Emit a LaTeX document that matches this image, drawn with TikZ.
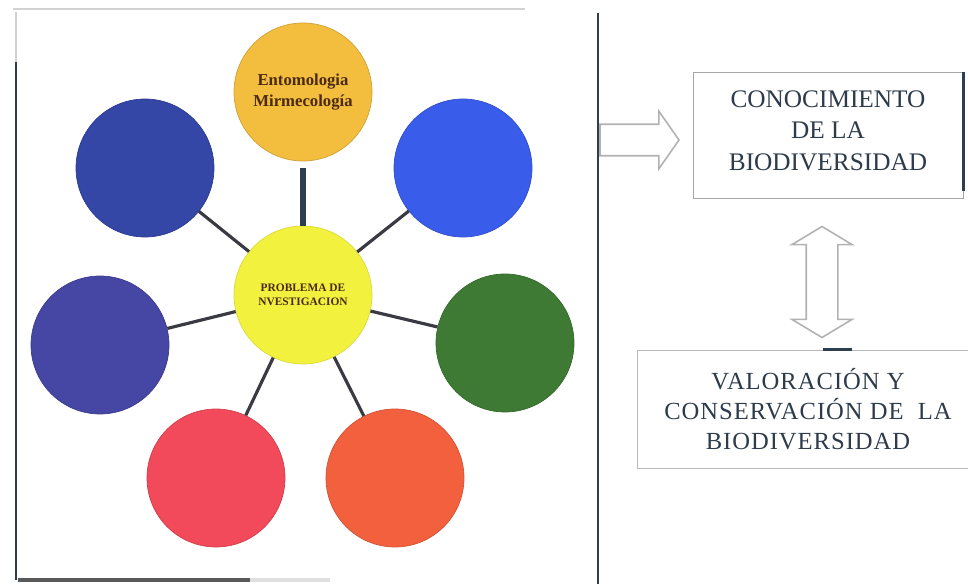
\documentclass[tikz,border=0pt]{standalone}
\usepackage{xcolor}
\usepackage{fontspec}
\setmainfont{Liberation Serif}
\usepackage{tikz}
\usetikzlibrary{shapes,arrows,positioning}

\definecolor{goldfill}{HTML}{F3BE3E}
\definecolor{lemonfill}{HTML}{F2F23E}
\definecolor{navyfill}{HTML}{3446A6}
\definecolor{royalfill}{HTML}{3A5CEB}
\definecolor{indigofill}{HTML}{4646A4}
\definecolor{leaffill}{HTML}{3E7A34}
\definecolor{rosefill}{HTML}{F24A5A}
\definecolor{tangfill}{HTML}{F3603E}
\definecolor{spokegray}{HTML}{3A3A42}
\definecolor{slateline}{HTML}{2C3E50}
\definecolor{inkbrown}{HTML}{4A2A12}
\definecolor{boxink}{HTML}{2D3B4B}

\begin{document}
\begin{tikzpicture}[x=0.02cm, y=-0.02cm,
    bubble/.style={circle, inner sep=0pt, minimum size=2.76cm, align=center},
    spoke/.style={line width=1.8pt, draw=spokegray},
    titlebox/.style={rectangle, text=boxink, align=center},
    hollow/.style={draw=gray!60, line width=0.9pt, fill=white, inner sep=0pt, text height=0.3cm, text depth=0.3cm}]

    \useasboundingbox (0,0) rectangle (968,584);

    % Frame round the circles
    \draw[gray!35, line width=1.5pt] (13,9) -- (525,9);
    \draw[gray!35, line width=1.2pt] (16,12) -- (16,62);
    \draw[slateline, line width=0.8pt] (16,62) -- (16,580);
    \draw[gray!70!black, line width=2.5pt] (18,580) -- (250,580);
    \draw[gray!25, line width=2pt] (250,580) -- (330,580);
    \draw[slateline, line width=1.1pt] (598,13) -- (598,584);

    % Nodes
    \node (ento) [bubble, fill=goldfill, draw=goldfill!85!black, text=inkbrown, font=\bfseries\fontsize{9.5}{12}\selectfont] at (303,92) {Entomologia\\Mirmecología};
    \node (prob) [bubble, fill=lemonfill, draw=lemonfill!90!black, text=inkbrown, font=\bfseries\fontsize{6.5}{8}\selectfont] at (303,295) {PROBLEMA DE\\NVESTIGACION};
    \node (navy) [bubble, fill=navyfill, draw=navyfill!85!black] at (145,168) {};
    \node (royal) [bubble, fill=royalfill, draw=royalfill!85!black] at (463,168) {};
    \node (indigo) [bubble, fill=indigofill, draw=indigofill!85!black] at (100,345) {};
    \node (leaf) [bubble, fill=leaffill, draw=leaffill!85!black] at (505,343) {};
    \node (rose) [bubble, fill=rosefill, draw=rosefill!85!black] at (216,478) {};
    \node (tang) [bubble, fill=tangfill, draw=tangfill!85!black] at (395,478) {};

    \node (know) [titlebox, draw=gray!70, minimum width=5.4cm, minimum height=2.52cm, font=\fontsize{14.4}{18}\selectfont] at (828,135) {CONOCIMIENTO\\DE LA\\BIODIVERSIDAD\\[-13pt]};
    \node (value) [titlebox, draw=gray!55, minimum width=6.84cm, minimum height=2.36cm, font=\fontsize{14}{17}\selectfont\addfontfeatures{LetterSpace=4}] at (808,409) {VALORACIÓN Y\\CONSERVACIÓN DE\ \ LA\\BIODIVERSIDAD};

    \node (push) [single arrow, hollow, minimum height=1.58cm, single arrow head extend=0.26cm, single arrow tip angle=110] at (634,140) {};
    \node (link) [double arrow, hollow, rotate=90, minimum height=2.22cm, double arrow head extend=0.29cm, double arrow tip angle=118] at (822,282) {};

    % Edges
    \draw[line width=3.4pt, slateline, shorten <=4pt] (ento) -- (prob);
    \draw[spoke] (prob) -- (navy);
    \draw[spoke] (prob) -- (royal);
    \draw[spoke] (prob) -- (indigo);
    \draw[spoke] (prob) -- (leaf);
    \draw[spoke] (prob) -- (rose);
    \draw[spoke] (prob) -- (tang);

    % heavy right edge and small mark on the boxes
    \draw[slateline, line width=2pt] (know.north east) -- ([yshift=0.15cm]know.south east);
    \draw[slateline, line width=1.5pt] ([xshift=0.3cm]value.north) -- ++(29,0);
\end{tikzpicture}
\end{document}
